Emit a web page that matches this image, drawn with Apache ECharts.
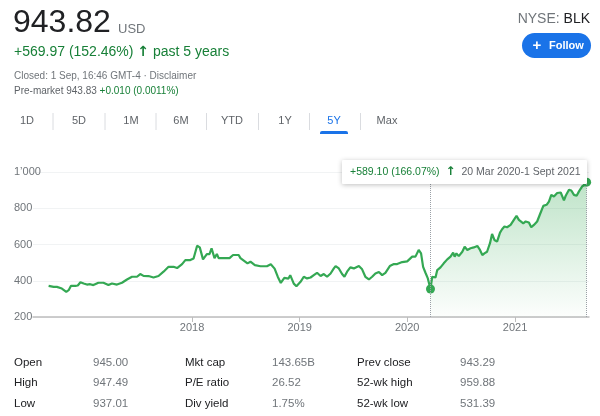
<!DOCTYPE html>
<html>
<head>
<meta charset="utf-8">
<script src="https://cdn.jsdelivr.net/npm/echarts@6/dist/echarts.min.js"></script>
<style>
  html, body { margin: 0; padding: 0; background: #fff; }
  #chart { width: 600px; height: 416px; }
</style>
</head>
<body>
<div id="chart"></div>
<script>
// BLK close prices
var dates = [
  '2016-09-01', '2016-09-18', '2016-09-29', '2016-10-16', '2016-10-31', '2016-11-08', '2016-11-16',
  '2016-12-01', '2016-12-09', '2016-12-18', '2016-12-29', '2017-01-09', '2017-01-20', '2017-01-31',
  '2017-02-17', '2017-03-06', '2017-03-23', '2017-04-04', '2017-04-21', '2017-05-08', '2017-05-25',
  '2017-06-11', '2017-06-28', '2017-07-09', '2017-07-20', '2017-08-06', '2017-08-23', '2017-09-09',
  '2017-09-26', '2017-10-13', '2017-10-30', '2017-11-11', '2017-11-28', '2017-12-09', '2017-12-26',
  '2018-01-06', '2018-01-18', '2018-01-27', '2018-02-07', '2018-02-20', '2018-03-01', '2018-03-08',
  '2018-03-18', '2018-03-26', '2018-04-01', '2018-04-12', '2018-05-08', '2018-05-20', '2018-06-08',
  '2018-06-14', '2018-07-08', '2018-07-18', '2018-08-02', '2018-08-21', '2018-09-12', '2018-09-25',
  '2018-10-08', '2018-10-19', '2018-10-29', '2018-11-10', '2018-11-24', '2018-11-30', '2018-12-12',
  '2018-12-21',
  '2019-01-04', '2019-01-15', '2019-01-26', '2019-02-07', '2019-02-18', '2019-03-01', '2019-03-13',
  '2019-03-24', '2019-04-04', '2019-04-16', '2019-04-27', '2019-05-03', '2019-05-14', '2019-05-25',
  '2019-06-02', '2019-06-11', '2019-06-22', '2019-07-04', '2019-07-21', '2019-08-01', '2019-08-12',
  '2019-08-24', '2019-09-04', '2019-09-15', '2019-09-27', '2019-10-08', '2019-10-19', '2019-11-03',
  '2019-11-17', '2019-11-28', '2019-12-15', '2020-01-01', '2020-01-18', '2020-01-29', '2020-02-09',
  '2020-02-17', '2020-02-24', '2020-03-03', '2020-03-11', '2020-03-20', '2020-03-26', '2020-03-31',
  '2020-04-06', '2020-04-12', '2020-04-23', '2020-05-04', '2020-05-16', '2020-05-27', '2020-06-05',
  '2020-06-10', '2020-06-16', '2020-06-24', '2020-07-06', '2020-07-14', '2020-07-23', '2020-08-03',
  '2020-08-14', '2020-08-26', '2020-09-04', '2020-09-12', '2020-09-19', '2020-09-28', '2020-10-08',
  '2020-10-15', '2020-10-23', '2020-11-01', '2020-11-11', '2020-11-18', '2020-11-26', '2020-12-05',
  '2020-12-17', '2020-12-28', '2021-01-06', '2021-01-14', '2021-01-20', '2021-01-29', '2021-02-06',
  '2021-02-17', '2021-02-25', '2021-03-06', '2021-03-17', '2021-03-26', '2021-04-07', '2021-04-18',
  '2021-04-26', '2021-05-04', '2021-05-13', '2021-05-24', '2021-06-05', '2021-06-16', '2021-06-22',
  '2021-07-03', '2021-07-11', '2021-07-20', '2021-07-29', '2021-08-06', '2021-08-17', '2021-08-28',
  '2021-09-01'
];
var prices = [
  372, 366, 366, 357, 339, 348, 372,
  372, 374, 392, 385, 379, 381, 376,
  389, 389, 376, 385, 379, 389, 407,
  422, 422, 437, 427, 426, 418, 426,
  450, 477, 477, 470, 492, 514, 514,
  523, 593, 584, 518, 547, 547, 579,
  525, 548, 525, 525, 525, 542, 542,
  525, 496, 505, 486, 480, 480, 491,
  467, 421, 388, 416, 412, 431, 384,
  370,
  394, 422, 413, 418, 431, 444, 426,
  437, 422, 440, 468, 481, 468, 437,
  422, 450, 474, 468, 481, 463, 422,
  407, 422, 440, 448, 431, 444, 481,
  492, 492, 503, 507, 533, 533, 570,
  551, 477, 444, 413, 354.72, 422, 431,
  418, 459, 474, 496, 518, 533, 555,
  533, 551, 536, 560, 588, 570, 579,
  584, 592, 570, 542, 551, 560, 607,
  658, 625, 616, 666, 684, 699, 695,
  708, 736, 758, 736, 740, 717, 727,
  721, 695, 708, 727, 764, 813, 819,
  837, 874, 865, 884, 887, 843, 869,
  902, 898, 874, 869, 893, 921, 930,
  943.82
];
var rangeStart = '2020-03-20';
var axisStart = '2016-07-10';
var axisEnd = '2021-09-09';
var yearTicks = ['2018-01-01', '2019-01-01', '2020-01-01', '2021-01-01'];

var tabs = ['1D', '5D', '1M', '6M', 'YTD', '1Y', '5Y', 'Max'];
var activeTab = '5Y';

var statLabels = [['Open', 'High', 'Low'], ['Mkt cap', 'P/E ratio', 'Div yield'], ['Prev close', '52-wk high', '52-wk low']];
var statValues = [['945.00', '947.49', '937.01'], ['143.65B', '26.52', '1.75%'], ['943.29', '959.88', '531.39']];

var GREEN = '#188038';
var LINE = '#34a853';
var GREY = '#70757a';
var FONT = '"Liberation Sans", Arial, sans-serif';

var chart = echarts.init(document.getElementById('chart'));

function toTime(s) {
  var p = s.split('-');
  return new Date(+p[0], +p[1] - 1, +p[2]).getTime();
}

var series = dates.map(function (d, i) { return [toTime(d), prices[i]]; });
var startIdx = dates.indexOf(rangeStart);
var rangeData = series.slice(startIdx);
var endPoint = series[series.length - 1];
var yearTickValues = yearTicks.map(toTime);

// header, tabs and stats table
var graphics = [
  { type: 'text', x: 13, y: 23, style: { text: '943.82', font: '32px ' + FONT, fill: '#202124', verticalAlign: 'middle' } },
  { type: 'text', x: 118, y: 29, style: { text: 'USD', font: '13px ' + FONT, fill: GREY, verticalAlign: 'middle' } },
  { type: 'text', x: 14, y: 52, style: {
      text: '{g|+569.97 (152.46%) }{a|↑}{g| past 5 years}',
      verticalAlign: 'middle',
      rich: {
        g: { fill: GREEN, fontSize: 14, fontFamily: FONT },
        a: { fill: GREEN, fontSize: 14, fontWeight: 'bold', fontFamily: 'DejaVu Sans' }
      }
  } },
  { type: 'text', x: 14, y: 76, style: { text: 'Closed: 1 Sep, 16:46 GMT-4 · Disclaimer', font: '10px ' + FONT, fill: GREY, verticalAlign: 'middle' } },
  { type: 'text', x: 14, y: 91, style: {
      text: '{d|Pre-market 943.83 }{g|+0.010 (0.0011%)}',
      verticalAlign: 'middle',
      rich: {
        d: { fill: '#5f6368', fontSize: 10, fontFamily: FONT },
        g: { fill: GREEN, fontSize: 10, fontFamily: FONT }
      }
  } },
  { type: 'text', x: 590, y: 19, style: {
      text: '{a|NYSE: }{b|BLK}', align: 'right', verticalAlign: 'middle',
      rich: {
        a: { fill: GREY, fontSize: 14, fontFamily: FONT },
        b: { fill: '#202124', fontSize: 14, fontFamily: FONT }
      }
  } },
  { type: 'rect', shape: { x: 522, y: 33, width: 69, height: 25, r: 12.5 }, style: { fill: '#1a73e8' } },
  { type: 'text', x: 537, y: 46, style: { text: '+', font: 'bold 15px ' + FONT, fill: '#fff', align: 'center', verticalAlign: 'middle' } },
  { type: 'text', x: 549, y: 45.5, style: { text: 'Follow', font: 'bold 11px ' + FONT, fill: '#fff', verticalAlign: 'middle' } }
];

var tabX = [27, 79, 131, 181, 232, 285, 334, 387];
tabs.forEach(function (t, i) {
  var active = t === activeTab;
  graphics.push({ type: 'text', x: tabX[i], y: 121, style: {
    text: t, font: '11px ' + FONT, fill: active ? '#1a73e8' : '#5f6368', align: 'center', verticalAlign: 'middle'
  } });
  if (i < tabs.length - 1) {
    var sx = (tabX[i] + tabX[i + 1]) / 2;
    graphics.push({ type: 'line', shape: { x1: sx, y1: 113, x2: sx, y2: 130 }, style: { stroke: '#dadce0', lineWidth: 1 } });
  }
  if (active) {
    graphics.push({ type: 'rect', shape: { x: tabX[i] - 14, y: 131, width: 28, height: 3, r: [2, 2, 0, 0] }, style: { fill: '#1a73e8' } });
  }
});

var colLabelX = [14, 185, 357];
var colValueX = [93, 272, 460];
var rowY = [363, 383, 404];
statLabels.forEach(function (col, c) {
  col.forEach(function (lab, r) {
    graphics.push({ type: 'text', x: colLabelX[c], y: rowY[r], style: { text: lab, font: '11.5px ' + FONT, fill: '#202124', verticalAlign: 'middle' } });
    graphics.push({ type: 'text', x: colValueX[c], y: rowY[r], style: { text: statValues[c][r], font: '11.5px ' + FONT, fill: GREY, verticalAlign: 'middle' } });
  });
});

// range tooltip box
graphics.push({ type: 'rect', z: 100, shape: { x: 342, y: 160, width: 245, height: 24, r: 1 },
  style: { fill: '#fff', shadowBlur: 5, shadowColor: 'rgba(0,0,0,0.25)', shadowOffsetY: 1 } });
graphics.push({ type: 'text', z: 101, x: 350, y: 172, style: {
  text: '{g|+589.10 (166.07%) }{a|↑}{d| 20 Mar 2020-1 Sept 2021}',
  verticalAlign: 'middle',
  rich: {
    g: { fill: GREEN, fontSize: 10.5, fontFamily: FONT },
    a: { fill: GREEN, fontSize: 12, fontWeight: 'bold', fontFamily: 'DejaVu Sans', padding: [0, 3, 0, 3] },
    d: { fill: '#5f6368', fontSize: 10.5, fontFamily: FONT }
  }
} });

var option = {
  backgroundColor: '#fff',
  animation: false,
  textStyle: { fontFamily: FONT },
  grid: { left: 33, right: 11, top: 172, bottom: 99 },
  xAxis: {
    type: 'value',
    min: toTime(axisStart),
    max: toTime(axisEnd),
    axisLine: { lineStyle: { color: '#bdbdbd', width: 1.5 } },
    axisTick: { show: true, customValues: yearTickValues, length: 5, lineStyle: { color: '#bdbdbd' } },
    axisLabel: {
      customValues: yearTickValues,
      color: GREY, fontSize: 11, margin: 5,
      formatter: function (v) { return String(new Date(v).getFullYear()); }
    },
    splitLine: { show: false }
  },
  yAxis: {
    type: 'value',
    min: 200, max: 1000, interval: 200,
    axisLine: { show: false },
    axisTick: { show: false },
    axisLabel: {
      color: GREY, fontSize: 11, align: 'left', margin: 19,
      formatter: function (v) { return String(v).replace(/\B(?=(\d{3})+$)/g, '\u2019'); }
    },
    splitLine: { lineStyle: { color: '#f1f3f4', width: 1 } }
  },
  series: [
    {
      name: 'range',
      type: 'line',
      data: rangeData,
      showSymbol: false,
      lineStyle: { width: 0 },
      areaStyle: {
        origin: 'start',
        color: new echarts.graphic.LinearGradient(0, 0, 0, 1, [
          { offset: 0, color: 'rgba(52,168,83,0.45)' },
          { offset: 1, color: 'rgba(52,168,83,0.02)' }
        ])
      },
      markLine: {
        silent: true,
        symbol: 'none',
        label: { show: false },
        lineStyle: { type: 'dotted', color: '#9aa0a6', width: 1 },
        data: [{ xAxis: toTime(rangeStart) }, { xAxis: endPoint[0] }]
      },
      z: 1
    },
    {
      name: 'BLK',
      type: 'line',
      data: series,
      showSymbol: false,
      lineStyle: { color: LINE, width: 2.2 },
      z: 3
    },
    {
      type: 'scatter',
      data: [series[startIdx], endPoint],
      symbolSize: 9,
      itemStyle: { color: LINE, opacity: 1 },
      z: 4
    }
  ],
  graphic: graphics
};

chart.setOption(option);
</script>
</body>
</html>
